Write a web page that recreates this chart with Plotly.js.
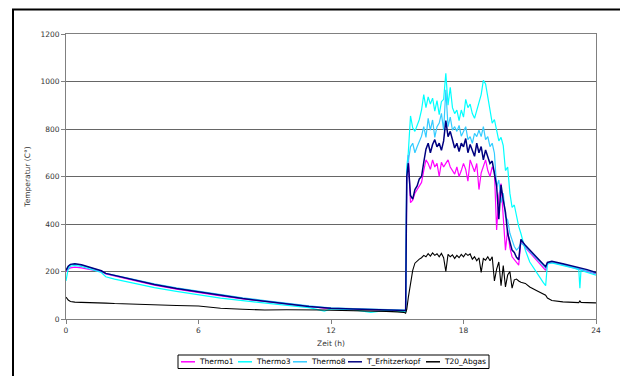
<!DOCTYPE html>
<html>
<head>
<meta charset="utf-8">
<script src="https://cdn.plot.ly/plotly-3.0.1.min.js"></script>
<style>
html, body { margin: 0; padding: 0; background: #ffffff; }
#chart { width: 620px; height: 376px; }
</style>
</head>
<body>
<div id="chart"></div>
<script>
// ---- data ----
var zeit = [0, 0.1, 0.2, 0.4, 0.7, 1.0, 1.3, 1.6, 1.8, 2.2, 3, 4, 5, 6, 7, 8, 9, 10, 11, 11.7, 12, 13, 13.8, 14.5, 15.0, 15.3, 15.38,
  15.43, 15.5, 15.6, 15.7, 15.8, 15.9, 16.0, 16.1, 16.2, 16.3, 16.4, 16.5, 16.6, 16.7, 16.8, 16.9, 17.0, 17.1, 17.2, 17.3, 17.4,
  17.5, 17.6, 17.7, 17.8, 17.9, 18.0, 18.1, 18.2, 18.3, 18.4, 18.5, 18.6, 18.7, 18.8, 18.9, 19.0, 19.1, 19.2, 19.3, 19.4,
  19.5, 19.6, 19.7, 19.8, 19.9, 20.0, 20.1, 20.2, 20.3, 20.4, 20.5, 20.6,
  20.8, 21.0, 21.3, 21.6, 21.72, 21.8, 22.0, 22.5, 23.0, 23.22, 23.27, 23.32, 23.6, 24.0];

var thermo1 = [200, 210, 215, 218, 215, 210, 205, 199, 190, 181, 163, 143, 126, 111, 97, 85, 74, 62, 52, 46, 44, 41, 39, 37, 36, 35, 35,
  560, 690, 490, 500, 530, 545, 560, 575, 625, 670, 655, 630, 670, 640, 655, 600, 660, 640, 655, 670, 640,
  625, 610, 640, 600, 625, 655, 630, 580, 670, 640, 620, 655, 545, 615, 640, 670, 625, 600, 640, 620,
  375, 520, 570, 410, 290, 375, 300, 262, 250, 240, 227, 330,
  300, 280, 250, 220, 205, 232, 238, 228, 216, 211, 210, 209, 202, 190];

var thermo3 = [160, 212, 222, 226, 221, 213, 205, 196, 178, 168, 152, 132, 116, 101, 88, 77, 68, 57, 48, 33, 42, 39, 28, 36, 34, 33, 30,
  640, 700, 855, 805, 790, 815, 840, 880, 945, 890, 935, 905, 930, 875, 920, 860, 915, 925, 1035, 900, 975,
  890, 865, 880, 835, 880, 850, 925, 890, 905, 865, 845, 880, 910, 945, 1005, 990, 935, 880, 825, 840,
  790, 750, 765, 730, 625, 640, 530, 470, 480, 430, 390, 360,
  290, 240, 195, 155, 140, 232, 236, 226, 214, 208, 130, 205, 198, 185];

var thermo8 = [205, 220, 228, 231, 226, 218, 210, 202, 192, 184, 167, 148, 131, 116, 101, 89, 78, 66, 55, 49, 47, 44, 42, 40, 39, 38, 38,
  620, 660, 725, 740, 700, 725, 745, 770, 810, 765, 845, 795, 838, 765, 810, 825, 866, 795, 965, 810, 850,
  795, 810, 790, 815, 770, 790, 810, 755, 768, 740, 782, 768, 795, 768, 810, 755, 768, 726, 740, 698,
  557, 585, 490, 530, 430, 417, 361, 333, 305, 290, 300, 320,
  305, 284, 255, 228, 215, 236, 240, 230, 219, 214, 212, 212, 204, 192];

var erhitzerkopf = [205, 222, 230, 233, 228, 220, 212, 203, 192, 183, 165, 145, 128, 113, 98, 86, 75, 63, 53, 47, 45, 42, 40, 38, 37, 36, 36,
  600, 656, 520, 505, 545, 560, 590, 600, 660, 715, 740, 700, 735, 755, 725, 740, 710, 750, 835, 768, 790,
  750, 720, 740, 705, 740, 725, 760, 700, 735, 712, 685, 740, 700, 726, 670, 712, 685, 655, 665, 620,
  560, 420, 565, 500, 450, 360, 320, 290, 280, 260, 250, 335,
  310, 290, 260, 232, 220, 238, 243, 233, 222, 217, 216, 215, 208, 196];

var abgas = [92, 80, 74, 71, 70, 70, 70, 69, 67, 65, 62, 59, 57, 55, 45, 41, 38, 39, 40, 38, 37, 36, 33, 32, 30, 28, 24,
  40, 90, 150, 205, 235, 245, 252, 258, 268, 262, 275, 265, 278, 268, 275, 262, 276, 258, 200, 272, 262,
  270, 255, 268, 258, 272, 262, 276, 268, 274, 252, 262, 245, 258, 196, 255, 248, 262, 245, 262, 160,
  210, 240, 140, 225, 135, 185, 200, 130, 165, 168, 160, 155,
  150, 135, 120, 108, 100, 88, 78, 72, 70, 69, 76, 70, 69, 68];

var seriesNames = ["Thermo1", "Thermo3", "Thermo8", "T_Erhitzerkopf", "T20_Abgas"];
var xTicks = [0, 6, 12, 18, 24];
var yTicks = [0, 200, 400, 600, 800, 1000, 1200];

// ---- styles ----
var seriesData = [thermo1, thermo3, thermo8, erhitzerkopf, abgas];
var styles = [
  {color: "#ff00ff", width: 1.2},
  {color: "#00ffff", width: 1.2},
  {color: "#33ccff", width: 1.2},
  {color: "#000080", width: 1.5},
  {color: "#000000", width: 1.1}
];

var traces = seriesNames.map(function (n, i) {
  return {
    type: "scatter", mode: "lines", name: n,
    x: zeit, y: seriesData[i],
    line: {color: styles[i].color, width: styles[i].width},
    showlegend: false, hoverinfo: "skip"
  };
});

// plot area pixel frame
var L = 66, R = 596, T = 34, B = 319;
function px(x) { return (x - L) / (R - L); }
function py(y) { return (B - y) / (B - T); }

var fontFam = "DejaVu Sans, Liberation Sans, sans-serif";

var shapes = [
  // outer chart border
  {type: "rect", xref: "paper", yref: "paper", x0: px(13), x1: px(700), y0: py(9.5), y1: py(450),
   line: {color: "#000000", width: 2}, fillcolor: "rgba(0,0,0,0)", layer: "below"},
  // legend box
  {type: "rect", xref: "paper", yref: "paper", x0: px(178), x1: px(489), y0: py(355), y1: py(368.5),
   line: {color: "#000000", width: 1}, fillcolor: "#ffffff"}
];
var annotations = [];
var legLineX = [181, 238, 293, 348, 426];
var legY = 361.8;
seriesNames.forEach(function (n, i) {
  shapes.push({type: "line", xref: "paper", yref: "paper",
    x0: px(legLineX[i]), x1: px(legLineX[i] + 14), y0: py(legY), y1: py(legY),
    line: {color: styles[i].color, width: 1.5}});
  annotations.push({xref: "paper", yref: "paper", x: px(legLineX[i] + 15.5), y: py(legY),
    xanchor: "left", yanchor: "middle", showarrow: false, text: n,
    font: {family: fontFam, size: 7.5, color: "#000000"}});
});

var layout = {
  width: 620, height: 376,
  margin: {l: L, r: 620 - R, t: T, b: 376 - B, pad: 0},
  paper_bgcolor: "#ffffff", plot_bgcolor: "#ffffff",
  showlegend: false,
  font: {family: fontFam, size: 7.5, color: "#333333"},
  xaxis: {
    range: [0, 24], tickvals: xTicks, ticktext: xTicks.map(String),
    showgrid: false, zeroline: false,
    showline: true, linecolor: "#808080", linewidth: 1, mirror: true,
    ticks: "outside", ticklen: 4, tickcolor: "#808080", tickwidth: 1,
    tickfont: {family: fontFam, size: 7.5, color: "#333333"},
    title: {text: "Zeit (h)", font: {family: fontFam, size: 7.5, color: "#333333"}, standoff: 6}
  },
  yaxis: {
    range: [0, 1200], tickvals: yTicks, ticktext: yTicks.map(String),
    showgrid: true, gridcolor: "#666666", gridwidth: 1, zeroline: false,
    showline: true, linecolor: "#808080", linewidth: 1, mirror: true,
    ticks: "outside", ticklen: 4, tickcolor: "#808080", tickwidth: 1,
    tickfont: {family: fontFam, size: 7.5, color: "#333333"},
    title: {text: "Temperatur (C°)", font: {family: fontFam, size: 7.5, color: "#333333"}, standoff: 8}
  },
  shapes: shapes,
  annotations: annotations
};

Plotly.newPlot("chart", traces, layout, {displayModeBar: false, staticPlot: true});
</script>
</body>
</html>
